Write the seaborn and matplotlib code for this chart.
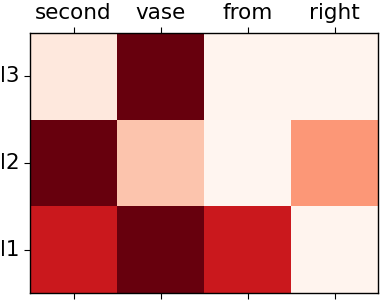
import matplotlib
matplotlib.use("Agg")
import matplotlib.pyplot as plt
import seaborn as sns
import numpy as np
import pandas as pd

columns = ["second", "vase", "from", "right"]
rows = ["l3", "l2", "l1"]
row_l3 = [0.08, 1.00, 0.01, 0.01]
row_l2 = [1.00, 0.22, 0.00, 0.36]
row_l1 = [0.75, 1.00, 0.75, 0.01]

df = pd.DataFrame([row_l3, row_l2, row_l1], index=rows, columns=columns)

fig = plt.figure(figsize=(3.84, 3.06), dpi=100)
ax = fig.add_axes([30/384, 1 - 293/306, 348/384, 260/306])
sns.heatmap(df, cmap="Reds", vmin=0, vmax=1, cbar=False, ax=ax)
for s in ax.spines.values():
    s.set_visible(True)
    s.set_color("black")
    s.set_linewidth(1.0)
ax.tick_params(axis="x", top=True, bottom=True, labeltop=True, labelbottom=False,
               labelsize=15.5, length=4)
ax.tick_params(axis="y", left=True, labelsize=15.5, length=4, labelrotation=0)
plt.setp(ax.get_xticklabels(), rotation=0)
ax.set_xlabel("")
ax.set_ylabel("")
fig.savefig("out.png", dpi=100)
